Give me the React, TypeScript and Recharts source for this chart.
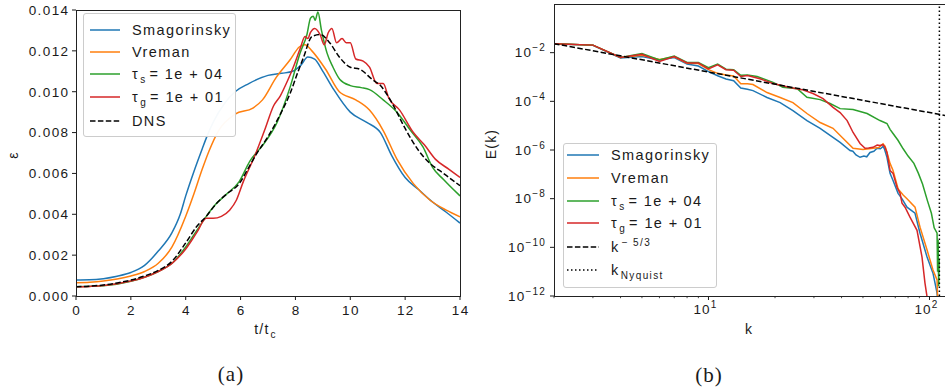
import React from 'react';
import { LineChart, Line, XAxis, YAxis, ReferenceLine } from 'recharts';

const SANS = '"Liberation Sans", Arial, Helvetica, sans-serif';
const SERIF = '"Liberation Serif", "DejaVu Serif", serif';
const INK = '#1a1a1a';
const C_SMAG = '#1f77b4';
const C_VREMAN = '#ff7f0e';
const C_TS = '#2ca02c';
const C_TG = '#d62728';
const DASH = '5.5 2.4';
const DOT = '1.5 2.5';

// ---------- (a) dissipation rate against t/t_c ----------
const timeTicks = [0, 2, 4, 6, 8, 10, 12, 14];
const epsTicks = [0, 0.002, 0.004, 0.006, 0.008, 0.01, 0.012, 0.014];

const tSmag = [0, 0.5, 1, 1.5, 2, 2.5, 3, 3.5, 3.8, 4.0, 4.3, 4.6, 4.8, 5.0, 5.4, 5.8, 6.3, 7.0, 7.5, 7.9, 8.2, 8.45, 8.7, 9.0, 9.4, 10.0, 10.6, 11.1, 11.5, 12.0, 12.5, 13.0, 13.5, 14];
const epsSmag = [0.00078, 0.00079, 0.00085, 0.00097, 0.00115, 0.0015, 0.0022, 0.0031, 0.004, 0.0049, 0.0061, 0.0072, 0.0079, 0.0085, 0.0094, 0.01, 0.0104, 0.0108, 0.0109, 0.011, 0.0113, 0.0117, 0.0116, 0.011, 0.0101, 0.009, 0.0085, 0.008, 0.0069, 0.0058, 0.0052, 0.0046, 0.0041, 0.00357];

const tVreman = [0, 0.5, 1, 1.5, 2, 2.5, 3, 3.5, 4, 4.3, 4.6, 4.85, 5.2, 5.8, 6.45, 6.8, 7.3, 7.8, 8.15, 8.35, 8.6, 9.1, 9.6, 10.2, 10.7, 11.2, 11.7, 12.3, 12.9, 13.5, 14];
const epsVreman = [0.00065, 0.00067, 0.00073, 0.00083, 0.00098, 0.0012, 0.0016, 0.0024, 0.0039, 0.005, 0.0062, 0.0071, 0.0081, 0.0089, 0.0092, 0.0096, 0.0107, 0.01155, 0.0122, 0.0123, 0.012, 0.0111, 0.01, 0.0096, 0.0091, 0.0081, 0.0067, 0.0055, 0.0047, 0.0042, 0.00387];

const tTauS = [0, 1, 2, 3, 3.5, 4, 4.4, 4.75, 5.1, 5.5, 5.95, 6.34, 6.82, 7.33, 7.8, 8.17, 8.42, 8.55, 8.65, 8.72, 8.82, 8.95, 9.15, 9.37, 9.62, 10.0, 10.4, 10.7, 11.2, 11.7, 12.2, 12.65, 13.0, 13.4, 14];
const epsTauS = [0.00045, 0.0005, 0.00072, 0.0012, 0.0016, 0.0024, 0.0032, 0.0039, 0.0045, 0.005, 0.0056, 0.0066, 0.0074, 0.0085, 0.0102, 0.0119, 0.0128, 0.0136, 0.0137, 0.0135, 0.0139, 0.013, 0.0119, 0.0112, 0.0106, 0.0103, 0.0102, 0.0101, 0.0096, 0.009, 0.0081, 0.0073, 0.0063, 0.0057, 0.0049];

const tTauG = [0, 0.5, 1, 1.5, 2, 2.5, 3, 3.5, 4, 4.4, 4.75, 5.0, 5.3, 5.6, 5.85, 6.1, 6.5, 6.9, 7.2, 7.45, 7.7, 7.95, 8.17, 8.35, 8.45, 8.55, 8.7, 8.9, 9.05, 9.2, 9.33, 9.5, 9.7, 9.85, 10.0, 10.2, 10.47, 10.7, 10.97, 11.2, 11.4, 11.8, 12.3, 12.7, 13.1, 13.6, 14];
const epsTauG = [0.00045, 0.00047, 0.00051, 0.0006, 0.00073, 0.00092, 0.0012, 0.0016, 0.0023, 0.0031, 0.0038, 0.0038, 0.0039, 0.0042, 0.0047, 0.0056, 0.0068, 0.0082, 0.0093, 0.0098, 0.0105, 0.0113, 0.0121, 0.0127, 0.0126, 0.0129, 0.0131, 0.0128, 0.0123, 0.0129, 0.0131, 0.0124, 0.0126, 0.0124, 0.0124, 0.0116, 0.0115, 0.0112, 0.0104, 0.0104, 0.0097, 0.0091, 0.008, 0.0074, 0.0067, 0.0062, 0.0058];

const tDns = [0, 0.5, 1, 1.5, 2, 2.5, 3, 3.5, 4, 4.4, 4.75, 5.1, 5.5, 5.95, 6.3, 6.6, 7.0, 7.45, 7.8, 8.1, 8.3, 8.6, 8.9, 9.25, 9.6, 10.0, 10.35, 10.8, 11.1, 11.5, 12.0, 12.5, 12.9, 13.4, 14];
const epsDns = [0.00045, 0.00048, 0.00054, 0.00064, 0.00078, 0.00098, 0.00125, 0.0017, 0.0026, 0.0034, 0.0039, 0.0045, 0.005, 0.0055, 0.0063, 0.007, 0.0078, 0.0089, 0.0099, 0.011, 0.0117, 0.0127, 0.0128, 0.0124, 0.0117, 0.0112, 0.0111, 0.0106, 0.0103, 0.0095, 0.0082, 0.0071, 0.0065, 0.006, 0.0054];

// ---------- (b) energy spectra, stored as log10 E(k) ----------
const kMinorTicks = [2, 3, 4, 5, 6, 7, 8, 9, 10, 20, 30, 40, 50, 60, 70, 80, 90, 100];
const spectrumTicks = [1e-12, 1e-10, 1e-8, 1e-6, 1e-4, 1e-2];
const kNyquist = 110.85;

const kSmag = [2, 3, 4, 5, 6, 7, 8, 9, 10, 11, 12, 13, 14, 15, 15.9, 18.4, 21.1, 24.1, 27.9, 32, 35.5, 39.4, 43.7, 45, 46.5, 48.5, 50.5, 52, 53.8, 56, 57.9, 60, 61.6, 62.5, 64.2, 66.3, 68.4, 72.1, 75, 79.1, 86, 90.6, 97.5, 103.7, 108.2, 110];
const logSmag = [-1.63, -1.7, -2.22, -2.16, -2.3, -2.2, -2.47, -2.55, -2.78, -2.95, -3.08, -3.15, -3.45, -3.5, -3.56, -3.84, -4.05, -4.38, -4.79, -5.11, -5.4, -5.69, -6.02, -6.05, -6.2, -6.3, -6.25, -6.28, -6.1, -6.05, -5.93, -5.95, -5.85, -5.95, -6.3, -6.96, -7.25, -7.78, -8.0, -8.35, -8.6, -9.42, -10.4, -11.06, -11.88, -12.6];

const kVreman = [2, 3, 4, 5, 6, 7, 8, 9, 10, 11, 12, 13, 14, 15, 15.9, 18.4, 21.1, 24.1, 27.9, 32, 36.6, 40.6, 45.1, 50, 55.5, 59, 61.6, 63, 64.2, 66.3, 68.4, 72.1, 76, 79.1, 86, 90.6, 97.5, 103.7, 108.2, 108.6, 110];
const logVreman = [-1.63, -1.69, -2.2, -2.11, -2.28, -2.17, -2.44, -2.45, -2.7, -2.85, -2.92, -2.96, -3.28, -3.28, -3.31, -3.64, -3.84, -4.05, -4.5, -4.87, -5.11, -5.52, -5.93, -5.98, -5.93, -5.9, -5.75, -5.85, -6.1, -6.55, -6.84, -7.6, -7.85, -8.0, -8.35, -9.17, -10.11, -10.93, -11.34, -11.88, -12.6];

const kTauS = [2, 3, 4, 5, 6, 7, 8, 9, 10, 11, 12, 13, 14, 15, 16.6, 19.6, 21.7, 25.2, 27.9, 32, 35.5, 39.4, 45.1, 52.2, 59.7, 64.2, 66.3, 68.4, 72, 76, 80, 85, 89, 93, 98, 102, 105, 108.2, 108.8, 109.4, 110, 110.6];
const logTauS = [-1.63, -1.69, -2.2, -2.04, -2.3, -2.14, -2.4, -2.4, -2.62, -2.47, -2.68, -2.7, -2.93, -2.92, -2.98, -3.22, -3.42, -3.48, -3.83, -3.93, -4.09, -4.3, -4.34, -4.5, -4.79, -4.91, -5.15, -5.32, -5.6, -5.95, -6.25, -6.55, -6.95, -7.4, -8.1, -8.6, -9.2, -9.42, -11.0, -9.7, -11.6, -10.5];

const kTauG = [2, 3, 4, 5, 6, 7, 8, 9, 10, 11, 12, 13, 14, 15, 17.1, 19.6, 23.4, 26.5, 29.7, 33, 36.6, 39.4, 42.4, 45.1, 48.5, 51.1, 53, 55.5, 58, 59.7, 61.6, 62.9, 64.2, 66.3, 68.4, 71.3, 73.6, 75.1, 77.5, 81.6, 87.8, 92.5, 95.4, 97.5, 99];
const logTauG = [-1.63, -1.69, -2.2, -2.07, -2.36, -2.16, -2.42, -2.42, -2.67, -2.5, -2.7, -2.72, -2.98, -2.94, -3.07, -3.27, -3.43, -3.52, -3.68, -3.89, -4.25, -4.46, -4.79, -5.28, -5.73, -5.93, -5.92, -5.89, -5.8, -5.81, -5.78, -5.89, -6.1, -6.84, -6.96, -7.53, -7.78, -8.19, -8.35, -8.76, -9.3, -10.4, -11.47, -12.04, -12.6];

// Kolmogorov k^-5/3 reference through the first spectral point
const kKolmogorov = [2, 120];
const logKolmogorov = [-1.63, -1.63 - (5 / 3) * Math.log10(120 / 2)];

const timeSeries = (ts: number[], es: number[]) => ts.map((t, i) => ({ t, eps: es[i] }));
const spectrum = (ks: number[], logs: number[]) => ks.map((k, i) => ({ k, E: Math.pow(10, logs[i]) }));

// ---------- tick renderers ----------
const TimeTick = (p: any) => {
  const { x, y, payload } = p;
  return (
    <g>
      <line x1={x} x2={x} y1={y} y2={y + 4} stroke={INK} strokeWidth={1} />
      <text x={x + 0.7} y={y + 18.5} textAnchor="middle" fontSize={13.5} fontFamily={SANS} fill={INK} letterSpacing={1.4}>
        {payload.value}
      </text>
    </g>
  );
};

const EpsTick = (p: any) => {
  const { x, y, payload } = p;
  return (
    <g>
      <line x1={x - 4} x2={x} y1={y} y2={y} stroke={INK} strokeWidth={1} />
      <text x={x - 6.5} y={y + 4.8} textAnchor="end" fontSize={13.5} fontFamily={SANS} fill={INK} letterSpacing={1.4}>
        {Number(payload.value).toFixed(3)}
      </text>
    </g>
  );
};

const WaveTick = (p: any) => {
  const { x, y, payload } = p;
  const v = Number(payload.value);
  const major = v === 10 || v === 100;
  return (
    <g>
      <line x1={x} x2={x} y1={y} y2={y + (major ? 4 : 2.2)} stroke={INK} strokeWidth={major ? 1 : 0.8} />
      {major && (
        <text x={x - 3} y={y + 18} textAnchor="middle" fontSize={13.5} fontFamily={SANS} fill={INK} letterSpacing={1.2}>
          10
          <tspan dy={-6} fontSize={10}>{Math.round(Math.log10(v))}</tspan>
        </text>
      )}
    </g>
  );
};

const SpectrumTick = (p: any) => {
  const { x, y, payload } = p;
  const e = Math.round(Math.log10(Number(payload.value)));
  return (
    <g>
      <line x1={x - 4} x2={x} y1={y} y2={y} stroke={INK} strokeWidth={1} />
      <text x={x - 8} y={y + 4.8} textAnchor="end" fontSize={13.5} fontFamily={SANS} fill={INK} letterSpacing={1.2}>
        10
        <tspan dy={-6} fontSize={10}>{'\u2212' + Math.abs(e)}</tspan>
      </text>
    </g>
  );
};

// ---------- legend ----------
type Item = { color: string; dash?: string; y: number; label: React.ReactNode };

const LegendPanel = ({ box, sampleX, sampleW, textX, items }: { box: [number, number, number, number]; sampleX: number; sampleW: number; textX: number; items: Item[] }) => (
  <>
    <div
      style={{
        position: 'absolute', left: box[0], top: box[1], width: box[2], height: box[3], boxSizing: 'border-box',
        background: 'rgba(255,255,255,0.96)', border: '1px solid #cccccc', borderRadius: 3,
      }}
    />
    {items.map((it, i) => (
      <React.Fragment key={i}>
        <svg style={{ position: 'absolute', left: sampleX, top: it.y - 3, overflow: 'visible' }} width={sampleW} height={6}>
          <line x1={0} x2={sampleW} y1={3} y2={3} stroke={it.color} strokeWidth={1.5} strokeDasharray={it.dash} />
        </svg>
        <div
          style={{
            position: 'absolute', left: textX, top: it.y - 10, height: 20, lineHeight: '20px', whiteSpace: 'nowrap',
            fontFamily: SANS, fontSize: 14.5, letterSpacing: 1.4, color: INK,
          }}
        >
          {it.label}
        </div>
      </React.Fragment>
    ))}
  </>
);

const sub = (s: string) => <span style={{ fontSize: 10, position: 'relative', top: 4, marginLeft: 1, marginRight: 3 }}>{s}</span>;
const sup = (s: string) => <span style={{ fontSize: 10, position: 'relative', top: -6, marginLeft: 2 }}>{s}</span>;

const labelStyle: React.CSSProperties = {
  position: 'absolute', fontFamily: SANS, fontSize: 14, letterSpacing: 1.2, color: INK, whiteSpace: 'nowrap',
};

export default function App() {
  return (
    <div style={{ position: 'absolute', left: 0, top: 0, width: 945, height: 391, overflow: 'hidden', background: '#fff' }}>
      {/* (a) */}
      <div style={{ position: 'absolute', left: 0, top: 0 }}>
        <LineChart width={470} height={391} margin={{ top: 10, right: 10, bottom: 65, left: 0 }}>
          <XAxis
            dataKey="t" type="number" domain={[0, 14]} ticks={timeTicks} allowDataOverflow interval={0}
            axisLine={false} tickLine={false} tickSize={0} tickMargin={0} height={30} tick={<TimeTick />}
          />
          <YAxis
            type="number" domain={[0, 0.014]} ticks={epsTicks} allowDataOverflow interval={0}
            axisLine={false} tickLine={false} tickSize={0} tickMargin={0} width={76} tick={<EpsTick />}
          />
          <Line data={timeSeries(tSmag, epsSmag)} dataKey="eps" type="monotone" stroke={C_SMAG} strokeWidth={1.5} dot={false} isAnimationActive={false} />
          <Line data={timeSeries(tVreman, epsVreman)} dataKey="eps" type="monotone" stroke={C_VREMAN} strokeWidth={1.5} dot={false} isAnimationActive={false} />
          <Line data={timeSeries(tTauS, epsTauS)} dataKey="eps" type="monotone" stroke={C_TS} strokeWidth={1.5} dot={false} isAnimationActive={false} />
          <Line data={timeSeries(tTauG, epsTauG)} dataKey="eps" type="monotone" stroke={C_TG} strokeWidth={1.5} dot={false} isAnimationActive={false} />
          <Line data={timeSeries(tDns, epsDns)} dataKey="eps" type="monotone" stroke="#000" strokeWidth={1.5} strokeDasharray={DASH} dot={false} isAnimationActive={false} />
        </LineChart>
      </div>
      <div style={{ position: 'absolute', left: 76, top: 10, width: 385, height: 287, boxSizing: 'border-box', border: '1px solid #222', pointerEvents: 'none' }} />
      <LegendPanel
        box={[83, 13, 153, 124]} sampleX={90} sampleW={30} textX={132}
        items={[
          { color: C_SMAG, y: 30, label: 'Smagorinsky' },
          { color: C_VREMAN, y: 52, label: 'Vreman' },
          { color: C_TS, y: 74, label: <>τ{sub('s')}= 1e + 04</> },
          { color: C_TG, y: 97, label: <>τ{sub('g')}= 1e + 01</> },
          { color: '#000', dash: DASH, y: 121, label: 'DNS' },
        ]}
      />
      <div style={{ ...labelStyle, left: 13, top: 155, transform: 'translate(-50%, -50%) rotate(-90deg)' }}>ε</div>
      <div style={{ ...labelStyle, left: 267, top: 329, transform: 'translate(-50%, -50%)' }}>t/t{sub('c')}</div>
      <div style={{ position: 'absolute', left: 231, top: 374, transform: 'translate(-50%, -50%)', fontFamily: SERIF, fontSize: 21, letterSpacing: 1, color: INK }}>(a)</div>

      {/* (b) */}
      <div style={{ position: 'absolute', left: 480, top: 0 }}>
        <LineChart width={470} height={391} margin={{ top: 4, right: 3, bottom: 65, left: 0 }}>
          <XAxis
            dataKey="k" type="number" scale="log" domain={[2, 120]} ticks={kMinorTicks} allowDataOverflow interval={0}
            axisLine={false} tickLine={false} tickSize={0} tickMargin={0} height={30} tick={<WaveTick />}
          />
          <YAxis
            type="number" scale="log" domain={[1e-12, 1]} ticks={spectrumTicks} allowDataOverflow interval={0}
            axisLine={false} tickLine={false} tickSize={0} tickMargin={0} width={74} tick={<SpectrumTick />}
          />
          <Line data={spectrum(kSmag, logSmag)} dataKey="E" type="linear" stroke={C_SMAG} strokeWidth={1.5} dot={false} isAnimationActive={false} />
          <Line data={spectrum(kVreman, logVreman)} dataKey="E" type="linear" stroke={C_VREMAN} strokeWidth={1.5} dot={false} isAnimationActive={false} />
          <Line data={spectrum(kTauS, logTauS)} dataKey="E" type="linear" stroke={C_TS} strokeWidth={1.5} dot={false} isAnimationActive={false} />
          <Line data={spectrum(kTauG, logTauG)} dataKey="E" type="linear" stroke={C_TG} strokeWidth={1.5} dot={false} isAnimationActive={false} />
          <Line data={spectrum(kKolmogorov, logKolmogorov)} dataKey="E" type="linear" stroke="#000" strokeWidth={1.5} strokeDasharray={DASH} dot={false} isAnimationActive={false} />
          <ReferenceLine x={kNyquist} stroke="#000" strokeWidth={1.5} strokeDasharray={DOT} />
        </LineChart>
      </div>
      <div style={{ position: 'absolute', left: 554, top: 4, width: 400, height: 293, boxSizing: 'border-box', border: '1px solid #222', pointerEvents: 'none' }} />
      <LegendPanel
        box={[563, 143, 154, 145]} sampleX={567} sampleW={32} textX={611}
        items={[
          { color: C_SMAG, y: 155, label: 'Smagorinsky' },
          { color: C_VREMAN, y: 178, label: 'Vreman' },
          { color: C_TS, y: 201, label: <>τ{sub('s')}= 1e + 04</> },
          { color: C_TG, y: 223, label: <>τ{sub('g')}= 1e + 01</> },
          { color: '#000', dash: DASH, y: 247, label: <>k{sup('\u2212 5/3')}</> },
          { color: '#000', dash: DOT, y: 270, label: <>k{sub('Nyquist')}</> },
        ]}
      />
      <div style={{ ...labelStyle, left: 491, top: 144, transform: 'translate(-50%, -50%) rotate(-90deg)' }}>E(k)</div>
      <div style={{ ...labelStyle, left: 749, top: 329, transform: 'translate(-50%, -50%)' }}>k</div>
      <div style={{ position: 'absolute', left: 709, top: 375, transform: 'translate(-50%, -50%)', fontFamily: SERIF, fontSize: 21, letterSpacing: 1, color: INK }}>(b)</div>
    </div>
  );
}
